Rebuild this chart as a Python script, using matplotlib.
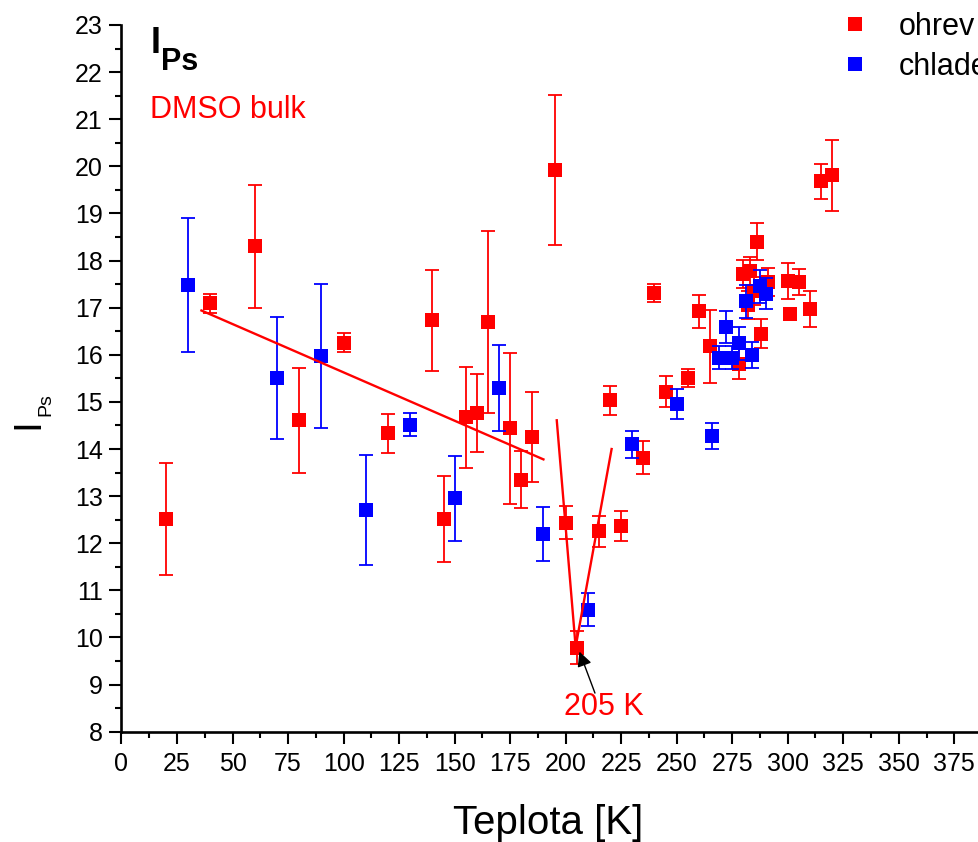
import matplotlib
matplotlib.use("Agg")
import matplotlib.pyplot as plt
from matplotlib.ticker import MultipleLocator

plt.rcParams['font.family'] = ['Liberation Sans', 'DejaVu Sans']

# ---- data ----
ohrev_T = [20, 40, 60, 80, 100, 120, 140, 145, 155, 160, 165, 175, 180, 185, 195,
           200, 205, 215, 220, 225, 235, 240, 245, 255, 260, 265, 278, 280, 282, 283,
           285, 286, 288, 291, 300, 301, 305, 310, 315, 320]
ohrev_I = [12.52, 17.09, 18.30, 14.61, 16.26, 14.33, 16.73, 12.52, 14.67, 14.76, 16.69,
           14.44, 13.35, 14.25, 19.92, 12.44, 9.78, 12.25, 15.03, 12.36, 13.82, 17.31,
           15.22, 15.50, 16.92, 16.18, 15.80, 17.71, 17.05, 17.78, 17.35, 18.40, 16.45,
           17.55, 17.56, 16.87, 17.55, 16.97, 19.68, 19.81]
ohrev_err = [1.19, 0.20, 1.31, 1.12, 0.20, 0.41, 1.07, 0.91, 1.08, 0.83, 1.93, 1.60,
             0.60, 0.96, 1.60, 0.36, 0.35, 0.32, 0.30, 0.32, 0.35, 0.20, 0.33, 0.19,
             0.35, 0.77, 0.32, 0.30, 0.30, 0.30, 0.30, 0.39, 0.30, 0.30, 0.38, 0.12,
             0.28, 0.38, 0.37, 0.75]

chlad_T = [30, 70, 90, 110, 130, 150, 170, 190, 210, 230, 250, 266, 269, 272, 275,
           278, 281, 284, 287.5, 290]
chlad_I = [17.48, 15.51, 15.97, 12.70, 14.52, 12.95, 15.29, 12.20, 10.59, 14.10, 14.95,
           14.27, 15.94, 16.58, 15.94, 16.24, 17.14, 16.00, 17.45, 17.30]
chlad_err = [1.42, 1.29, 1.53, 1.17, 0.25, 0.90, 0.91, 0.57, 0.35, 0.28, 0.32, 0.28,
             0.25, 0.34, 0.25, 0.35, 0.35, 0.28, 0.36, 0.33]

fit1_T = [36, 190]
fit1_I = [16.94, 13.78]
fit2_T = [196, 204.5]
fit2_I = [14.61, 9.80]
fit3_T = [204.5, 220.7]
fit3_I = [9.80, 14.00]

legend_labels = ['ohrev', 'chladenie']
x_label = 'Teplota [K]'

W, H = 979, 842
fig = plt.figure(figsize=(W / 100, H / 100), dpi=100)

def fx(px):
    return px / W

def fy(py):
    return 1 - py / H

ax_left, ax_bottom_px, ax_top_px = 121.5, 731.7, 25.0
xmax = 400
ax_w = xmax * 2.2207
ax = fig.add_axes([fx(ax_left), fy(ax_bottom_px), ax_w / W, (ax_bottom_px - ax_top_px) / H])
ax.set_xlim(0, xmax)
ax.set_ylim(8, 23)

red = '#FF0000'
blue = '#0000FF'

ax.errorbar(ohrev_T, ohrev_I, yerr=ohrev_err, fmt='none', ecolor=red, elinewidth=1.3,
            capsize=4.8, capthick=1.3, zorder=2)
ax.plot(ohrev_T, ohrev_I, 's', color=red, markersize=9.5, markeredgewidth=0,
        label=legend_labels[0], zorder=3)
ax.errorbar(chlad_T, chlad_I, yerr=chlad_err, fmt='none', ecolor=blue, elinewidth=1.3,
            capsize=4.8, capthick=1.3, zorder=4)
ax.plot(chlad_T, chlad_I, 's', color=blue, markersize=9.5, markeredgewidth=0,
        label=legend_labels[1], zorder=5)

for tx, ty in [(fit1_T, fit1_I), (fit2_T, fit2_I), (fit3_T, fit3_I)]:
    ax.plot(tx, ty, '-', color=red, lw=1.7, zorder=6)

ax.annotate('', xy=(206.2, 9.70), xytext=(213.2, 8.82),
            arrowprops=dict(arrowstyle='-|>', color='black', lw=1.0,
                            mutation_scale=22, shrinkA=0, shrinkB=0), zorder=7)
ax.text(217.3, 8.355, '205 K', color=red, fontsize=22, ha='center', va='baseline')

# axes styling
for s in ['top', 'right']:
    ax.spines[s].set_visible(False)
for s in ['left', 'bottom']:
    ax.spines[s].set_linewidth(1.9)
ax.xaxis.set_major_locator(MultipleLocator(25))
ax.xaxis.set_minor_locator(MultipleLocator(12.5))
ax.yaxis.set_major_locator(MultipleLocator(1))
ax.yaxis.set_minor_locator(MultipleLocator(0.5))
ax.tick_params(which='major', direction='out', length=8.6, width=1.5, labelsize=18)
ax.tick_params(which='minor', direction='out', length=4.3, width=1.5)
ax.tick_params(axis='x', pad=6)
ax.tick_params(axis='y', pad=5)

# legend
ax.legend(loc='upper left', bbox_to_anchor=(fx(839.5), fy(12)), bbox_transform=fig.transFigure,
          frameon=False, fontsize=22, handlelength=1.0, handletextpad=0.95,
          labelspacing=0.33, borderpad=0, borderaxespad=0, markerscale=1.0)

# titles / labels
fig.text(fx(151), fy(53), 'I', fontsize=26, fontweight='bold', ha='left', va='baseline')
fig.text(fx(161), fy(70), 'Ps', fontsize=22, fontweight='bold', ha='left', va='baseline')
fig.text(fx(150), fy(118), 'DMSO bulk', fontsize=22, color=red, ha='left', va='baseline')

fig.text(fx(38), fy(429), 'I', fontsize=28, rotation=90, rotation_mode='anchor',
         ha='left', va='baseline')
fig.text(fx(50.5), fy(416), 'Ps', fontsize=14, rotation=90, rotation_mode='anchor',
         ha='left', va='baseline')
fig.text(fx(548), fy(834), x_label, fontsize=29, ha='center', va='baseline')

fig.savefig('out.png', dpi=100)
